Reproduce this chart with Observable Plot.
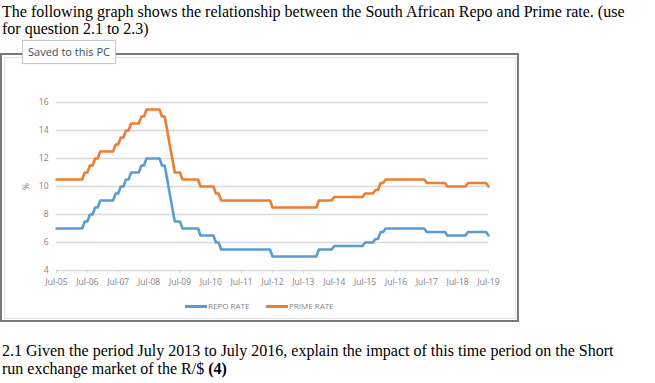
<!DOCTYPE html>
<html>
<head>
<meta charset="utf-8">
<script src="https://cdn.jsdelivr.net/npm/d3@7"></script>
<script src="https://cdn.jsdelivr.net/npm/@observablehq/plot@0.6"></script>
<style>
  html, body { margin: 0; padding: 0; background: #fff; width: 655px; height: 383px; overflow: hidden; position: relative; }
  .txt { position: absolute; left: 2px; font-family: "Liberation Serif", "Times New Roman", serif; font-size: 16px; line-height: 18px; color: #000; white-space: nowrap; }
  #frame { position: absolute; left: 0; top: 53px; width: 515px; height: 265px; border: 2px solid #7a7a7a; }
  #inner { position: absolute; left: 2px; top: 2px; right: 1px; bottom: 1px; border: 1px solid #e2e2e2; }
  #chart { position: absolute; left: 0; top: 54px; }
  #tip { position: absolute; left: 22px; top: 40px; width: 92px; height: 22px; border: 1px solid #c8c8c8; background: #fff; font-family: "Open Sans", sans-serif; font-size: 11px; line-height: 22px; color: #3c4a5c; text-align: center; box-shadow: 0 0 1px rgba(0,0,0,0.15); }
  #legend { position: absolute; top: 300px; left: 0; width: 519px; font-family: "Open Sans", sans-serif; font-size: 8px; color: #7f7f7f; }
  .sw { position: absolute; top: 5px; height: 2.6px; width: 22px; }
  .lt { position: absolute; top: 0; line-height: 12px; }
</style>
</head>
<body>
<div class="txt" style="top:3px;">The following graph shows the relationship between the South African Repo and Prime rate. (use</div>
<div class="txt" style="top:20px;">for question 2.1 to 2.3)</div>
<div id="frame"><div id="inner"></div></div>
<div id="chart"></div>
<div id="tip">Saved to this PC</div>
<div id="legend">
  <div class="sw" style="left:185px;background:#5b9bd5;"></div><div class="lt" style="left:208px;">REPO RATE</div>
  <div class="sw" style="left:266px;background:#ed7d31;"></div><div class="lt" style="left:289px;">PRIME RATE</div>
</div>
<div class="txt" style="top:342px;">2.1 Given the period July 2013 to July 2016, explain the impact of this time period on the Short</div>
<div class="txt" style="top:360px;">run exchange market of the R/$ <b>(4)</b></div>
<script>
const months = [
  "2005-07","2006-05","2006-06","2006-07","2006-08","2006-09","2006-10","2006-11","2006-12",
  "2007-05","2007-06","2007-07","2007-08","2007-09","2007-10","2007-11","2007-12",
  "2008-03","2008-04","2008-05","2008-06","2008-11","2008-12",
  "2009-01","2009-02","2009-03","2009-04","2009-05","2009-07","2009-08",
  "2010-02","2010-03","2010-08","2010-09","2010-10","2010-11",
  "2012-06","2012-07","2013-12","2014-01","2014-06","2014-07",
  "2015-06","2015-07","2015-10","2015-11","2015-12","2016-01","2016-02","2016-03",
  "2017-06","2017-07","2018-02","2018-03","2018-10","2018-11","2019-06","2019-07"
];
const repoRate = [
  7.0,7.0,7.5,7.5,8.0,8.0,8.5,8.5,9.0,
  9.0,9.5,9.5,10.0,10.0,10.5,10.5,11.0,
  11.0,11.5,11.5,12.0,12.0,11.5,
  11.5,10.5,9.5,8.5,7.5,7.5,7.0,
  7.0,6.5,6.5,6.0,6.0,5.5,
  5.5,5.0,5.0,5.5,5.5,5.75,
  5.75,6.0,6.0,6.25,6.25,6.75,6.75,7.0,
  7.0,6.75,6.75,6.5,6.5,6.75,6.75,6.5
];
const primeRate = [
  10.5,10.5,11.0,11.0,11.5,11.5,12.0,12.0,12.5,
  12.5,13.0,13.0,13.5,13.5,14.0,14.0,14.5,
  14.5,15.0,15.0,15.5,15.5,15.0,
  15.0,14.0,13.0,12.0,11.0,11.0,10.5,
  10.5,10.0,10.0,9.5,9.5,9.0,
  9.0,8.5,8.5,9.0,9.0,9.25,
  9.25,9.5,9.5,9.75,9.75,10.25,10.25,10.5,
  10.5,10.25,10.25,10.0,10.0,10.25,10.25,10.0
];
const tickYears = [2005,2006,2007,2008,2009,2010,2011,2012,2013,2014,2015,2016,2017,2018,2019];
const yTicks = [4,6,8,10,12,14,16];
const seriesNames = ["REPO RATE","PRIME RATE"];

const toDate = s => { const [y,m] = s.split("-").map(Number); return new Date(Date.UTC(y, m-1, 1)); };
const repo = months.map((m,i) => ({date: toDate(m), value: repoRate[i], series: seriesNames[0]}));
const prime = months.map((m,i) => ({date: toDate(m), value: primeRate[i], series: seriesNames[1]}));
const xTicks = tickYears.map(y => new Date(Date.UTC(y, 6, 1)));

const chart = Plot.plot({
  width: 519, height: 268,
  marginLeft: 56, marginRight: 31, marginTop: 48, marginBottom: 52,
  style: {background: "transparent", fontFamily: "'Open Sans', sans-serif", fontSize: "8.5px", color: "#7f7f7f"},
  x: {type: "utc", domain: [xTicks[0], xTicks[xTicks.length-1]]},
  y: {domain: [4, 16]},
  marks: [
    Plot.gridY(yTicks.slice(1), {stroke: "#d9d9d9", strokeOpacity: 1, strokeWidth: 1.5}),
    Plot.ruleY([4], {stroke: "#d9d9d9", strokeWidth: 1.5}),
    Plot.axisY(yTicks, {tickSize: 0, tickPadding: 8, label: "%", labelAnchor: "center", labelArrow: "none", labelOffset: 34, fill: "#7f7f7f"}),
    Plot.axisX(xTicks, {tickSize: 3, tickPadding: 5, tickFormat: d3.utcFormat("%b-%y"), label: null, stroke: "#d9d9d9", fill: "#7f7f7f"}),
    Plot.line(repo, {x: "date", y: "value", stroke: "#5b9bd5", strokeWidth: 2.6}),
    Plot.line(prime, {x: "date", y: "value", stroke: "#ed7d31", strokeWidth: 2.6})
  ]
});
document.getElementById("chart").appendChild(chart);
</script>
</body>
</html>
